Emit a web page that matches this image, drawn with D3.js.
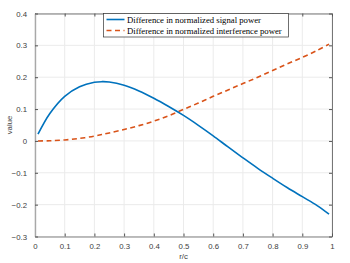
<html lang="en">
<head>
<meta http-equiv="Content-Type" content="text/html; charset=UTF-8">
<title>signal vs interference</title>
<script type="text/javascript" src="https://cdn.jsdelivr.net/npm/d3@7"></script>
<style type="text/css">
body { margin: 0; background: #fff; }
</style>
</head>
<body>
<script type="text/javascript">

// r/c sample points
var rc = [0.01, 0.05, 0.10, 0.15, 0.20, 0.225, 0.25, 0.30, 0.35, 0.40, 0.45, 0.50,
          0.55, 0.60, 0.65, 0.70, 0.75, 0.80, 0.85, 0.90, 0.95, 0.99];
var signalDiff = [0.021, 0.086, 0.140, 0.170, 0.184, 0.186, 0.185, 0.175, 0.157, 0.134, 0.108, 0.080,
                  0.049, 0.016, -0.019, -0.053, -0.086, -0.117, -0.147, -0.175, -0.203, -0.230];
var interfDiff = [0.000, 0.0005, 0.003, 0.008, 0.015, 0.020, 0.025, 0.036, 0.048, 0.062, 0.079, 0.099,
                  0.119, 0.140, 0.160, 0.180, 0.200, 0.221, 0.242, 0.262, 0.284, 0.304];
var seriesNames = ["Difference in normalized signal power", "Difference in normalized interference power"];
var xTicks = [0, 0.1, 0.2, 0.3, 0.4, 0.5, 0.6, 0.7, 0.8, 0.9, 1];
var yTicks = [-0.3, -0.2, -0.1, 0, 0.1, 0.2, 0.3, 0.4];

var W = 350, H = 263;
var mLeft = 35, mRight = 332, mTop = 13.5, mBottom = 236.5;

var svg = d3.select("body").append("svg")
    .attr("width", W)
    .attr("height", H);

var x = d3.scaleLinear().domain([0, 1]).range([mLeft, mRight]);
var y = d3.scaleLinear().domain([-0.3, 0.4]).range([mBottom, mTop]);

// grid
svg.append("g").selectAll("line").data(xTicks).enter().append("line")
    .attr("x1", function(d){ return x(d); }).attr("x2", function(d){ return x(d); })
    .attr("y1", mTop).attr("y2", mBottom)
    .attr("stroke", "#ebebeb").attr("stroke-width", 1);
svg.append("g").selectAll("line").data(yTicks).enter().append("line")
    .attr("y1", function(d){ return y(d); }).attr("y2", function(d){ return y(d); })
    .attr("x1", mLeft).attr("x2", mRight)
    .attr("stroke", "#ebebeb").attr("stroke-width", 1);

// axes (ticks inward)
var fmt = function(d){ return d === 0 ? "0" : (d === 1 ? "1" : d3.format(".1f")(d)); };

var xAxis = svg.append("g").attr("transform", "translate(0," + mBottom + ")")
    .call(d3.axisBottom(x).tickValues(xTicks).tickSizeInner(-3).tickSizeOuter(0).tickPadding(7).tickFormat(fmt));
var xTop = svg.append("g").attr("transform", "translate(0," + mTop + ")")
    .call(d3.axisTop(x).tickValues(xTicks).tickSizeInner(-3).tickSizeOuter(0).tickFormat(""));
var yAxis = svg.append("g").attr("transform", "translate(" + mLeft + ",0)")
    .call(d3.axisLeft(y).tickValues(yTicks).tickSizeInner(-3).tickSizeOuter(0).tickPadding(8).tickFormat(fmt));
var yRight = svg.append("g").attr("transform", "translate(" + mRight + ",0)")
    .call(d3.axisRight(y).tickValues(yTicks).tickSizeInner(-3).tickSizeOuter(0).tickFormat(""));

[xAxis, yAxis].forEach(function(a){
    a.select(".domain").attr("stroke", "#a8a8a8").attr("stroke-width", 1.4);
    a.selectAll(".tick line").attr("stroke", "#555");
    a.selectAll("text").attr("fill", "#404040")
        .style("font-family", "'Liberation Sans', Arial, sans-serif").style("font-size", "7.8px");
});
[xTop, yRight].forEach(function(a){
    a.select(".domain").attr("stroke", "#555").attr("stroke-width", 0.8);
    a.selectAll(".tick line").attr("stroke", "#555");
});

// axis labels
svg.append("text").attr("x", x(0.5)).attr("y", 259)
    .attr("text-anchor", "middle").attr("fill", "#404040")
    .style("font-family", "'Liberation Sans', Arial, sans-serif").style("font-size", "7.8px")
    .text("r/c");
svg.append("text").attr("transform", "translate(12," + y(0.05) + ") rotate(-90)")
    .attr("text-anchor", "middle").attr("fill", "#404040")
    .style("font-family", "'Liberation Sans', Arial, sans-serif").style("font-size", "7.8px")
    .text("value");

// lines
var line = d3.line()
    .x(function(d){ return x(d[0]); })
    .y(function(d){ return y(d[1]); })
    .curve(d3.curveCatmullRom.alpha(0.5));

svg.append("path")
    .attr("d", line(d3.zip(rc, interfDiff)))
    .attr("fill", "none").attr("stroke", "#D95319")
    .attr("stroke-width", 1.6).attr("stroke-dasharray", "5,3.5");

svg.append("path")
    .attr("d", line(d3.zip(rc, signalDiff)))
    .attr("fill", "none").attr("stroke", "#0072BD")
    .attr("stroke-width", 1.6);

// legend
var lg = svg.append("g").attr("transform", "translate(103.5,13.5)");
lg.append("rect").attr("width", 185).attr("height", 23.5)
    .attr("fill", "#fff").attr("stroke", "#333").attr("stroke-width", 0.7);
var colors = ["#0072BD", "#D95319"];
var dashes = [null, "5,3.5"];
seriesNames.forEach(function(name, i){
    var ly = 6 + i * 11;
    lg.append("line").attr("x1", 3).attr("x2", 21).attr("y1", ly).attr("y2", ly)
        .attr("stroke", colors[i]).attr("stroke-width", 1.6)
        .attr("stroke-dasharray", dashes[i]);
    lg.append("text").attr("x", 23.5).attr("y", ly + 3)
        .attr("fill", "#000")
        .style("font-family", "'Liberation Serif', 'Times New Roman', serif").style("font-size", "8.7px")
        .text(name);
});

</script>
</body>
</html>
